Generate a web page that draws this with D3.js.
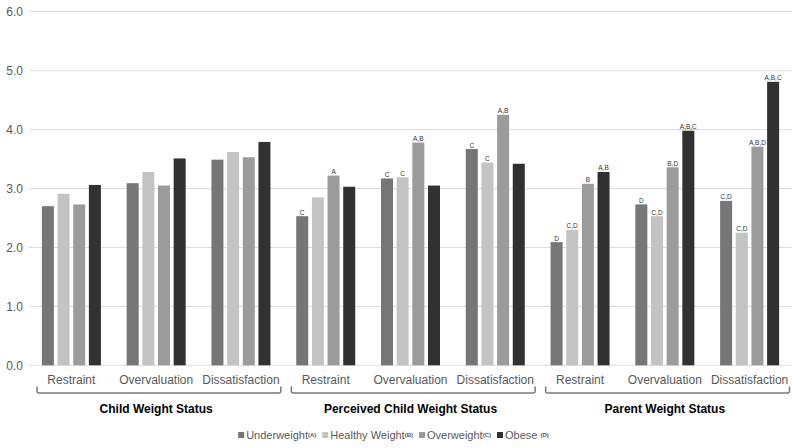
<!DOCTYPE html>
<html><head><meta charset="utf-8">
<script src="https://cdn.jsdelivr.net/npm/d3@7/dist/d3.min.js"></script>
<style>
body{margin:0;background:#fff;}
svg{display:block;font-family:"Liberation Sans",Arial,sans-serif;}
</style></head>
<body><svg id="c" width="800" height="448"></svg>
<script>
const categories = ["Restraint","Overvaluation","Dissatisfaction","Restraint","Overvaluation","Dissatisfaction","Restraint","Overvaluation","Dissatisfaction"];
const groups = ["Child Weight Status","Perceived Child Weight Status","Parent Weight Status"];
const seriesNames = ["Underweight","Healthy Weight","Overweight","Obese"];
const seriesSup = ["(A)","(B)","(C)","(D)"];
const seriesSep = ["","",""," "];
const underweight = [2.70,3.09,3.49,2.53,3.17,3.67,2.09,2.73,2.79];
const healthy     = [2.91,3.28,3.62,2.85,3.19,3.44,2.30,2.53,2.25];
const overweight  = [2.73,3.05,3.53,3.22,3.78,4.25,3.08,3.36,3.71];
const obese       = [3.06,3.51,3.79,3.03,3.05,3.42,3.28,3.98,4.81];
const labUnder  = ["","","","C","C","C","D","D","C,D"];
const labHealthy= ["","","","","C","C","C,D","C,D","C,D"];
const labOver   = ["","","","A","A,B","A,B","B","B,D","A,B,D"];
const labObese  = ["","","","","","","A,B","A,B,C","A,B,C"];
const yTicks = [0,1,2,3,4,5,6];
const colors = ["#767676","#c3c3c3","#9b9b9b","#313131"];

const values = [underweight, healthy, overweight, obese];
const labels = [labUnder, labHealthy, labOver, labObese];

const svg = d3.select("#c");
const left = 29, right = 792;
const idx = d3.range(categories.length);
const x0 = d3.scaleBand().domain(idx).range([left, right]);
const bw = x0.bandwidth();
const gw = 59;
const x1 = d3.scaleBand().domain(d3.range(4)).range([(bw-gw)/2, (bw+gw)/2]).paddingInner(0.234);
const y = d3.scaleLinear().domain([0,6]).range([365.3, 11.7]);

// grid
svg.append("g").selectAll("line").data(yTicks).join("line")
  .attr("x1", left).attr("x2", right)
  .attr("y1", d=>y(d)).attr("y2", d=>y(d))
  .attr("stroke", "#dcdcdc").attr("stroke-width", 1);

// y labels
const yAxis = d3.axisLeft(y).tickValues(yTicks).tickFormat(d3.format(".1f")).tickSize(0).tickPadding(6);
const ya = svg.append("g").attr("transform", `translate(${left},0)`).call(yAxis);
ya.select(".domain").remove();
ya.selectAll("text").attr("fill","#595959").style("font-size","12px").style("font-family","'Liberation Sans',Arial,sans-serif");

// bars
const flat = [];
idx.forEach(i => values.forEach((s,j) => flat.push({i, j, v: s[i], lab: labels[j][i]})));
svg.append("g").selectAll("rect").data(flat).join("rect")
  .attr("x", d => x0(d.i) + x1(d.j))
  .attr("width", x1.bandwidth())
  .attr("y", d => y(d.v))
  .attr("height", d => y(0) - y(d.v))
  .attr("fill", d => colors[d.j]);

svg.append("g").selectAll("text").data(flat.filter(d=>d.lab)).join("text")
  .attr("x", d => x0(d.i) + x1(d.j) + x1.bandwidth()/2)
  .attr("y", d => y(d.v) - 1.5)
  .attr("text-anchor","middle")
  .attr("fill","#333")
  .style("font-size","6.5px")
  .text(d => d.lab);

// category labels
svg.append("g").selectAll("text").data(idx).join("text")
  .attr("x", i => x0(i) + bw/2)
  .attr("y", 380)
  .attr("dy","0.35em")
  .attr("text-anchor","middle")
  .attr("fill","#595959")
  .style("font-size","12px")
  .text(i => categories[i]);

// brackets
const gBr = svg.append("g");
groups.forEach((g, k) => {
  const gx0 = x0(k*3) + 8, gx1 = x0(k*3+2) + bw - 2.5;
  const yTop = 386.5, yBot = 393, r = 2;
  gBr.append("path")
    .attr("d", `M${gx0},${yTop} V${yBot-r} Q${gx0},${yBot} ${gx0+r},${yBot} H${gx1-r} Q${gx1},${yBot} ${gx1},${yBot-r} V${yTop}`)
    .attr("fill","none").attr("stroke","#7a7a7a").attr("stroke-width",1.5);
  gBr.append("text")
    .attr("x", (x0(k*3) + x0(k*3+2) + bw)/2)
    .attr("y", 409).attr("dy","0.35em")
    .attr("text-anchor","middle")
    .attr("fill","#000")
    .style("font-size","12px").style("font-weight","bold")
    .text(g);
});

// legend
const leg = svg.append("g");
let lx = 0;
const gap = 6;
seriesNames.forEach((n, j) => {
  const it = leg.append("g");
  it.append("rect").attr("x",0).attr("y",-3).attr("width",6).attr("height",6).attr("fill",colors[j]);
  const t = it.append("text").attr("x",8).attr("y",0).attr("dy","0.36em")
    .attr("fill","#595959").style("font-size","11px");
  t.append("tspan").text(n + seriesSep[j]);
  t.append("tspan").style("font-size","6px").style("font-weight","bold").attr("dy","-1.5").text(seriesSup[j]);
  const w = 8 + t.node().getComputedTextLength();
  it.attr("transform", `translate(${lx},0)`);
  lx += w + gap;
});
const totalW = lx - gap;
leg.attr("transform", `translate(${393.5 - totalW/2},435)`);
</script></body></html>
